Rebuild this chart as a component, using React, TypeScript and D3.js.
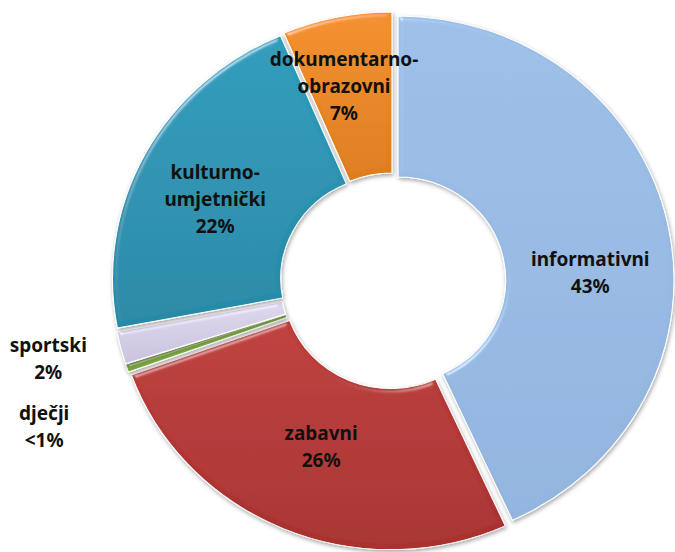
import React from 'react';
import * as d3 from 'd3';

// categories in drawing order, clockwise from 12 o'clock
const categories = ['informativni', 'zabavni', 'dječji', 'sportski', 'kulturno-umjetnički', 'dokumentarno-obrazovni'];
const shares = [43.2, 26.3, 0.5, 2.0, 21.6, 6.4];
const shareLabels = ['43%', '26%', '<1%', '2%', '22%', '7%'];
const colors = ['#9cbfe8', '#bd3e3b', '#8cb54a', '#ddd7ec', '#2d9cbb', '#f3902a'];
const darkColors = ['#92b4de', '#a8302e', '#79a23b', '#cbc3df', '#2689a6', '#de7c1a'];

// label placement: polar angle (deg, clockwise from top) and radius
const labelAngles = [87.4, 202.6, 246.5, 256.7, 295.8, 346.5];
const labelRadii = [189, 179, 364, 339, 189, 201];

const W = 675;
const H = 552;
const cx = 393;
const cy = 281;
const sx = 1.045;
const outerR = 264;
const innerR = 103;
const explode = 5;
const lineH = 27;

function splitLabel(name: string) {
  const i = name.indexOf('-');
  return i < 0 ? [name] : [name.slice(0, i + 1), name.slice(i + 1)];
}

export default function App() {
  const pie = d3.pie<number>().sort(null).value((d) => d);
  const arcs = pie(shares);
  const arc = d3.arc<d3.PieArcDatum<number>>().innerRadius(innerR).outerRadius(outerR);

  return (
    <svg width={W} height={H} style={{ position: 'absolute', left: 0, top: 0 }}>
      <defs>
        <filter id="bevel" x="-10%" y="-10%" width="120%" height="120%">
          <feGaussianBlur in="SourceAlpha" stdDeviation="2.5" result="blur" />
          <feSpecularLighting in="blur" surfaceScale="3" specularConstant="0.35" specularExponent="40" lightingColor="#ffffff" result="spec">
            <feDistantLight azimuth="235" elevation="40" />
          </feSpecularLighting>
          <feComposite in="spec" in2="SourceAlpha" operator="in" result="specIn" />
          <feComposite in="SourceGraphic" in2="specIn" operator="arithmetic" k1="0" k2="1" k3="1" k4="0" result="lit" />
          <feGaussianBlur in="SourceAlpha" stdDeviation="2" result="sblur" />
          <feOffset in="sblur" dx="1" dy="2" result="soff" />
          <feFlood floodColor="#000" floodOpacity="0.35" />
          <feComposite in2="soff" operator="in" result="shadow" />
          <feMerge>
            <feMergeNode in="shadow" />
            <feMergeNode in="lit" />
          </feMerge>
        </filter>
        {colors.map((c, i) => (
          <linearGradient key={i} id={`g${i}`} x1="0" y1="0" x2="0" y2="1">
            <stop offset="0%" stopColor={c} />
            <stop offset="100%" stopColor={darkColors[i]} />
          </linearGradient>
        ))}
      </defs>
      <g transform={`translate(${cx},${cy}) scale(${sx},1)`}>
        {arcs.map((a, i) => {
          const mid = (a.startAngle + a.endAngle) / 2;
          const dx = Math.sin(mid) * explode;
          const dy = -Math.cos(mid) * explode;
          return (
            <path
              key={categories[i]}
              d={arc(a) || ''}
              transform={`translate(${dx},${dy})`}
              fill={`url(#g${i})`}
              stroke="#ffffff"
              strokeWidth={1}
              filter="url(#bevel)"
            />
          );
        })}
      </g>
      <g fontFamily="'Noto Sans', 'Open Sans', sans-serif" fontWeight="bold" fontSize={19} fill="#111" textAnchor="middle">
        {categories.map((name, i) => {
          const ang = (labelAngles[i] * Math.PI) / 180;
          const x = cx + sx * labelRadii[i] * Math.sin(ang);
          const yc = cy - labelRadii[i] * Math.cos(ang);
          const lines = [...splitLabel(name), shareLabels[i]];
          const y0 = yc - ((lines.length - 1) * lineH) / 2 + 7;
          return (
            <text key={name} x={x} y={y0}>
              {lines.map((t, j) => (
                <tspan key={j} x={x} y={y0 + j * lineH}>
                  {t}
                </tspan>
              ))}
            </text>
          );
        })}
      </g>
    </svg>
  );
}
